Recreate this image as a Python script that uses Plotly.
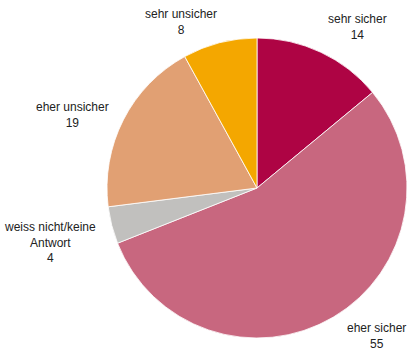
import plotly.graph_objects as go

# Survey answers, in clockwise order starting at 12 o'clock
labels = ["sehr sicher", "eher sicher", "weiss nicht/keine<br>Antwort", "eher unsicher", "sehr unsicher"]
values = [14, 55, 4, 19, 8]
colors = ["#AE0444", "#C8677F", "#C1C0BE", "#E1A073", "#F4A700"]

# Label anchor points (paper coordinates) for the outside labels
label_x = [0.875, 0.922, 0.123, 0.177, 0.444]
label_y = [0.924, 0.045, 0.310, 0.673, 0.937]

W, H = 408, 352
cx, cy, r = 257, 188, 150

fig = go.Figure(go.Pie(
    labels=labels,
    values=values,
    marker=dict(colors=colors, line=dict(color="white", width=0.8)),
    sort=False,
    direction="clockwise",
    rotation=0,
    textinfo="none",
    hoverinfo="label+value",
    showlegend=False,
    domain=dict(x=[(cx - r) / W, (cx + r) / W], y=[1 - (cy + r) / H, 1 - (cy - r) / H]),
))

for lab, val, x, y in zip(labels, values, label_x, label_y):
    fig.add_annotation(
        x=x, y=y, xref="paper", yref="paper",
        text=f"{lab}<br>{val}", showarrow=False,
        xanchor="center", yanchor="middle",
        font=dict(family="Liberation Sans, Arial, sans-serif", size=12, color="#222222"),
    )

fig.update_layout(
    width=W, height=H,
    margin=dict(l=0, r=0, t=0, b=0),
    paper_bgcolor="white",
    plot_bgcolor="white",
)

fig.write_html("out.html")
